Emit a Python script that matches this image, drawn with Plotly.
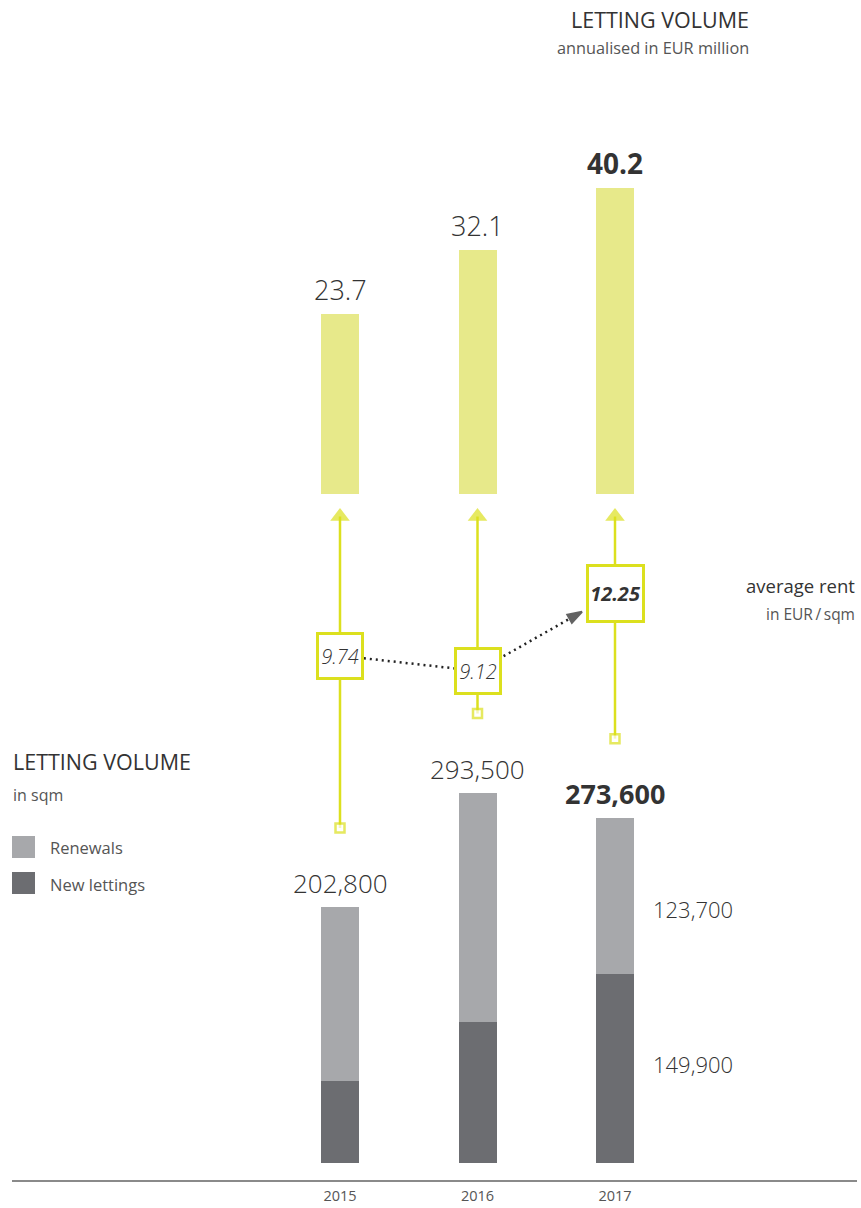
import plotly.graph_objects as go

# ---------------- data ----------------
years = ["2015", "2016", "2017"]
new_lettings = [65000, 112000, 149900]      # sqm
renewals = [137800, 181500, 123700]         # sqm
totals_sqm = [202800, 293500, 273600]       # sqm
volume_eur = [23.7, 32.1, 40.2]             # EUR million, annualised
avg_rent = [9.74, 9.12, 12.25]              # EUR / sqm

# ---------------- layout geometry (page pixels) ----------------
W, H = 861, 1208
AX_LEFT, AX_RIGHT, AX_BOTTOM, AX_TOP = 12, 857, 1180, 0
ML, MR, MT, MB = AX_LEFT, W - AX_RIGHT, AX_TOP, H - AX_BOTTOM
PH = AX_BOTTOM - AX_TOP
PW = AX_RIGHT - AX_LEFT


def axis_range(base_px, base_val, px_per_unit):
    return [base_val + (base_px - AX_BOTTOM) / px_per_unit, base_val + (base_px - AX_TOP) / px_per_unit]


def x_range(center0_px, step_px):
    return [(AX_LEFT - center0_px) / step_px, (AX_RIGHT - center0_px) / step_px]


X_RANGE = x_range(340, 137.5)
Y_SQM = axis_range(1163, 0, 256 / 202800)
Y_EUR = axis_range(494, 0, 7.6)
Y_RENT = axis_range(671, 9.12, 24.92)

BAR_W = 38 / 137.5

C_YELLOW_BAR = "#E7E98A"
C_YELLOW_LINE = "#DCE01E"
C_RENEW = "#A7A8AB"
C_NEW = "#6C6D71"
C_TEXT = "#333333"
C_SUB = "#555555"
FONT = "Open Sans"

xpos = list(range(len(years)))


def to_px(v, rng):
    return (rng[1] - v) / (rng[1] - rng[0]) * PH


def from_px(p, rng):
    return rng[1] - p * (rng[1] - rng[0]) / PH


fig = go.Figure()

# stacked sqm bars
fig.add_trace(go.Bar(x=xpos, y=new_lettings, width=BAR_W, marker=dict(color=C_NEW, line=dict(width=0)),
                     name="New lettings", yaxis="y"))
fig.add_trace(go.Bar(x=xpos, y=renewals, width=BAR_W, marker=dict(color=C_RENEW, line=dict(width=0)),
                     name="Renewals", yaxis="y"))

# EUR bars
fig.add_trace(go.Bar(x=xpos, y=volume_eur, width=BAR_W, marker=dict(color=C_YELLOW_BAR, line=dict(width=0)),
                     name="Letting volume EUR", yaxis="y2"))

# yellow stems (from small square above sqm bar up to arrow below EUR bar)
TRI = 17
head_rent = from_px(to_px(0, Y_EUR) + 14 + TRI / 2, Y_RENT)
stem_bottoms = [from_px(to_px(t, Y_SQM) - 79, Y_RENT) for t in totals_sqm]
for i in xpos:
    fig.add_trace(go.Scatter(
        x=[i, i], y=[stem_bottoms[i], head_rent], yaxis="y3", mode="lines+markers",
        line=dict(color=C_YELLOW_LINE, width=2.5),
        marker=dict(symbol=["square", "triangle-up"], size=[9, TRI],
                    color=["white", C_YELLOW_LINE],
                    line=dict(width=[2.5, 0], color=C_YELLOW_LINE)),
        hoverinfo="skip"))

# dotted connector between rent boxes
fig.add_trace(go.Scatter(
    x=[xpos[0], xpos[1]], y=[avg_rent[0], avg_rent[1]], yaxis="y3", mode="lines",
    line=dict(color="#222222", width=2.5, dash="2px,4px"), hoverinfo="skip"))
f = 0.76
fig.add_trace(go.Scatter(
    x=[xpos[1], xpos[1] + f * (xpos[2] - xpos[1])],
    y=[avg_rent[1], avg_rent[1] + f * (avg_rent[2] - avg_rent[1])],
    yaxis="y3", mode="lines+markers",
    line=dict(color="#222222", width=2.5, dash="2px,4px"),
    marker=dict(symbol=["circle", "arrow"], size=[0, 15], angleref="previous", color="#222222",
                line=dict(width=2, color="#222222")),
    hoverinfo="skip"))

annotations = []

# rent boxes
for i, r in enumerate(avg_rent):
    bold = (i == len(avg_rent) - 1)
    size = 53 if bold else 42
    annotations.append(dict(x=i, y=r, xref="x", yref="y3",
                            text=(f"<b><i>{r:.2f}</i></b>" if bold else f"<i>{r:.2f}</i>"),
                            showarrow=False,
                            font=dict(family=FONT, size=20, color=C_TEXT, weight=(700 if bold else 300)),
                            bgcolor="white", bordercolor=C_YELLOW_LINE, borderwidth=3, borderpad=0,
                            width=size, height=size, align="center", valign="middle"))

# EUR value labels
for i, v in enumerate(volume_eur):
    bold = (i == len(volume_eur) - 1)
    annotations.append(dict(x=i, y=v, xref="x", yref="y2", text=(f"<b>{v}</b>" if bold else f"{v}"),
                            showarrow=False, yanchor="bottom", yshift=4,
                            font=dict(family=FONT, size=(28 if bold else 27), color=C_TEXT,
                                      weight=(700 if bold else 300))))

# sqm total labels
for i, t in enumerate(totals_sqm):
    bold = (i == len(totals_sqm) - 1)
    s = f"{t:,}"
    annotations.append(dict(x=i, y=t, xref="x", yref="y", text=(f"<b>{s}</b>" if bold else s),
                            showarrow=False, yanchor="bottom", yshift=4,
                            font=dict(family=FONT, size=(27 if bold else 26), color=C_TEXT,
                                      weight=(700 if bold else 300))))

# 2017 split labels
last = len(years) - 1
annotations.append(dict(x=last, y=new_lettings[last] + renewals[last] / 2, xref="x", yref="y",
                        text=f"{renewals[last]:,}", showarrow=False, xanchor="left", xshift=36, yshift=-13,
                        font=dict(family=FONT, size=22, color=C_TEXT, weight=300)))
annotations.append(dict(x=last, y=new_lettings[last] / 2, xref="x", yref="y",
                        text=f"{new_lettings[last]:,}", showarrow=False, xanchor="left", xshift=36, yshift=4,
                        font=dict(family=FONT, size=22, color=C_TEXT, weight=300)))


def py(p):
    return (AX_BOTTOM - p) / PH


def px(p):
    return (p - AX_LEFT) / PW


# titles and legend text
annotations += [
    dict(x=px(751), y=py(19), xref="paper", yref="paper", text="LETTING VOLUME", showarrow=False,
         xanchor="right", yanchor="middle", font=dict(family=FONT, size=21.5, color=C_TEXT)),
    dict(x=px(751), y=py(48), xref="paper", yref="paper", text="annualised in EUR million", showarrow=False,
         xanchor="right", yanchor="middle", font=dict(family=FONT, size=16.3, color=C_SUB)),
    dict(x=px(857), y=py(585), xref="paper", yref="paper", text="average rent", showarrow=False,
         xanchor="right", yanchor="middle", font=dict(family=FONT, size=18.5, color=C_TEXT)),
    dict(x=px(857), y=py(614), xref="paper", yref="paper", text="in EUR\u2009/\u2009sqm", showarrow=False,
         xanchor="right", yanchor="middle", font=dict(family=FONT, size=15.5, color=C_SUB)),
    dict(x=px(11), y=py(762), xref="paper", yref="paper", text="LETTING VOLUME", showarrow=False,
         xanchor="left", yanchor="middle", font=dict(family=FONT, size=21.5, color=C_TEXT)),
    dict(x=px(11), y=py(795), xref="paper", yref="paper", text="in sqm", showarrow=False,
         xanchor="left", yanchor="middle", font=dict(family=FONT, size=16, color=C_SUB)),
    dict(x=px(48), y=py(847), xref="paper", yref="paper", text="Renewals", showarrow=False,
         xanchor="left", yanchor="middle", font=dict(family=FONT, size=16.5, color=C_SUB)),
    dict(x=px(48), y=py(884), xref="paper", yref="paper", text="New lettings", showarrow=False,
         xanchor="left", yanchor="middle", font=dict(family=FONT, size=16.5, color=C_SUB)),
]

shapes = [
    dict(type="rect", xref="paper", yref="paper", x0=px(12), x1=px(35), y0=py(858), y1=py(836),
         fillcolor=C_RENEW, line=dict(width=0)),
    dict(type="rect", xref="paper", yref="paper", x0=px(12), x1=px(35), y0=py(894), y1=py(872),
         fillcolor=C_NEW, line=dict(width=0)),
]

fig.update_layout(
    width=W, height=H, margin=dict(l=ML, r=MR, t=MT, b=MB),
    paper_bgcolor="white", plot_bgcolor="white",
    barmode="stack", bargap=0, showlegend=False, hovermode=False,
    font=dict(family=FONT, color=C_TEXT),
    xaxis=dict(range=X_RANGE, tickvals=xpos, ticktext=years, showgrid=False, zeroline=False,
               showline=True, linecolor="#8a8a8a", linewidth=1.5, ticks="", ticklabelstandoff=2,
               tickfont=dict(family=FONT, size=14.5, color=C_SUB), fixedrange=True),
    yaxis=dict(range=Y_SQM, visible=False, fixedrange=True),
    yaxis2=dict(range=Y_EUR, overlaying="y", visible=False, fixedrange=True),
    yaxis3=dict(range=Y_RENT, overlaying="y", visible=False, fixedrange=True),
    annotations=annotations, shapes=shapes,
)

fig.write_html(
    "out.html",
    config={"displayModeBar": False, "staticPlot": True},
    post_script="document.body.style.margin='0';document.body.style.overflow='hidden';"
                "document.documentElement.style.overflow='hidden';",
)
